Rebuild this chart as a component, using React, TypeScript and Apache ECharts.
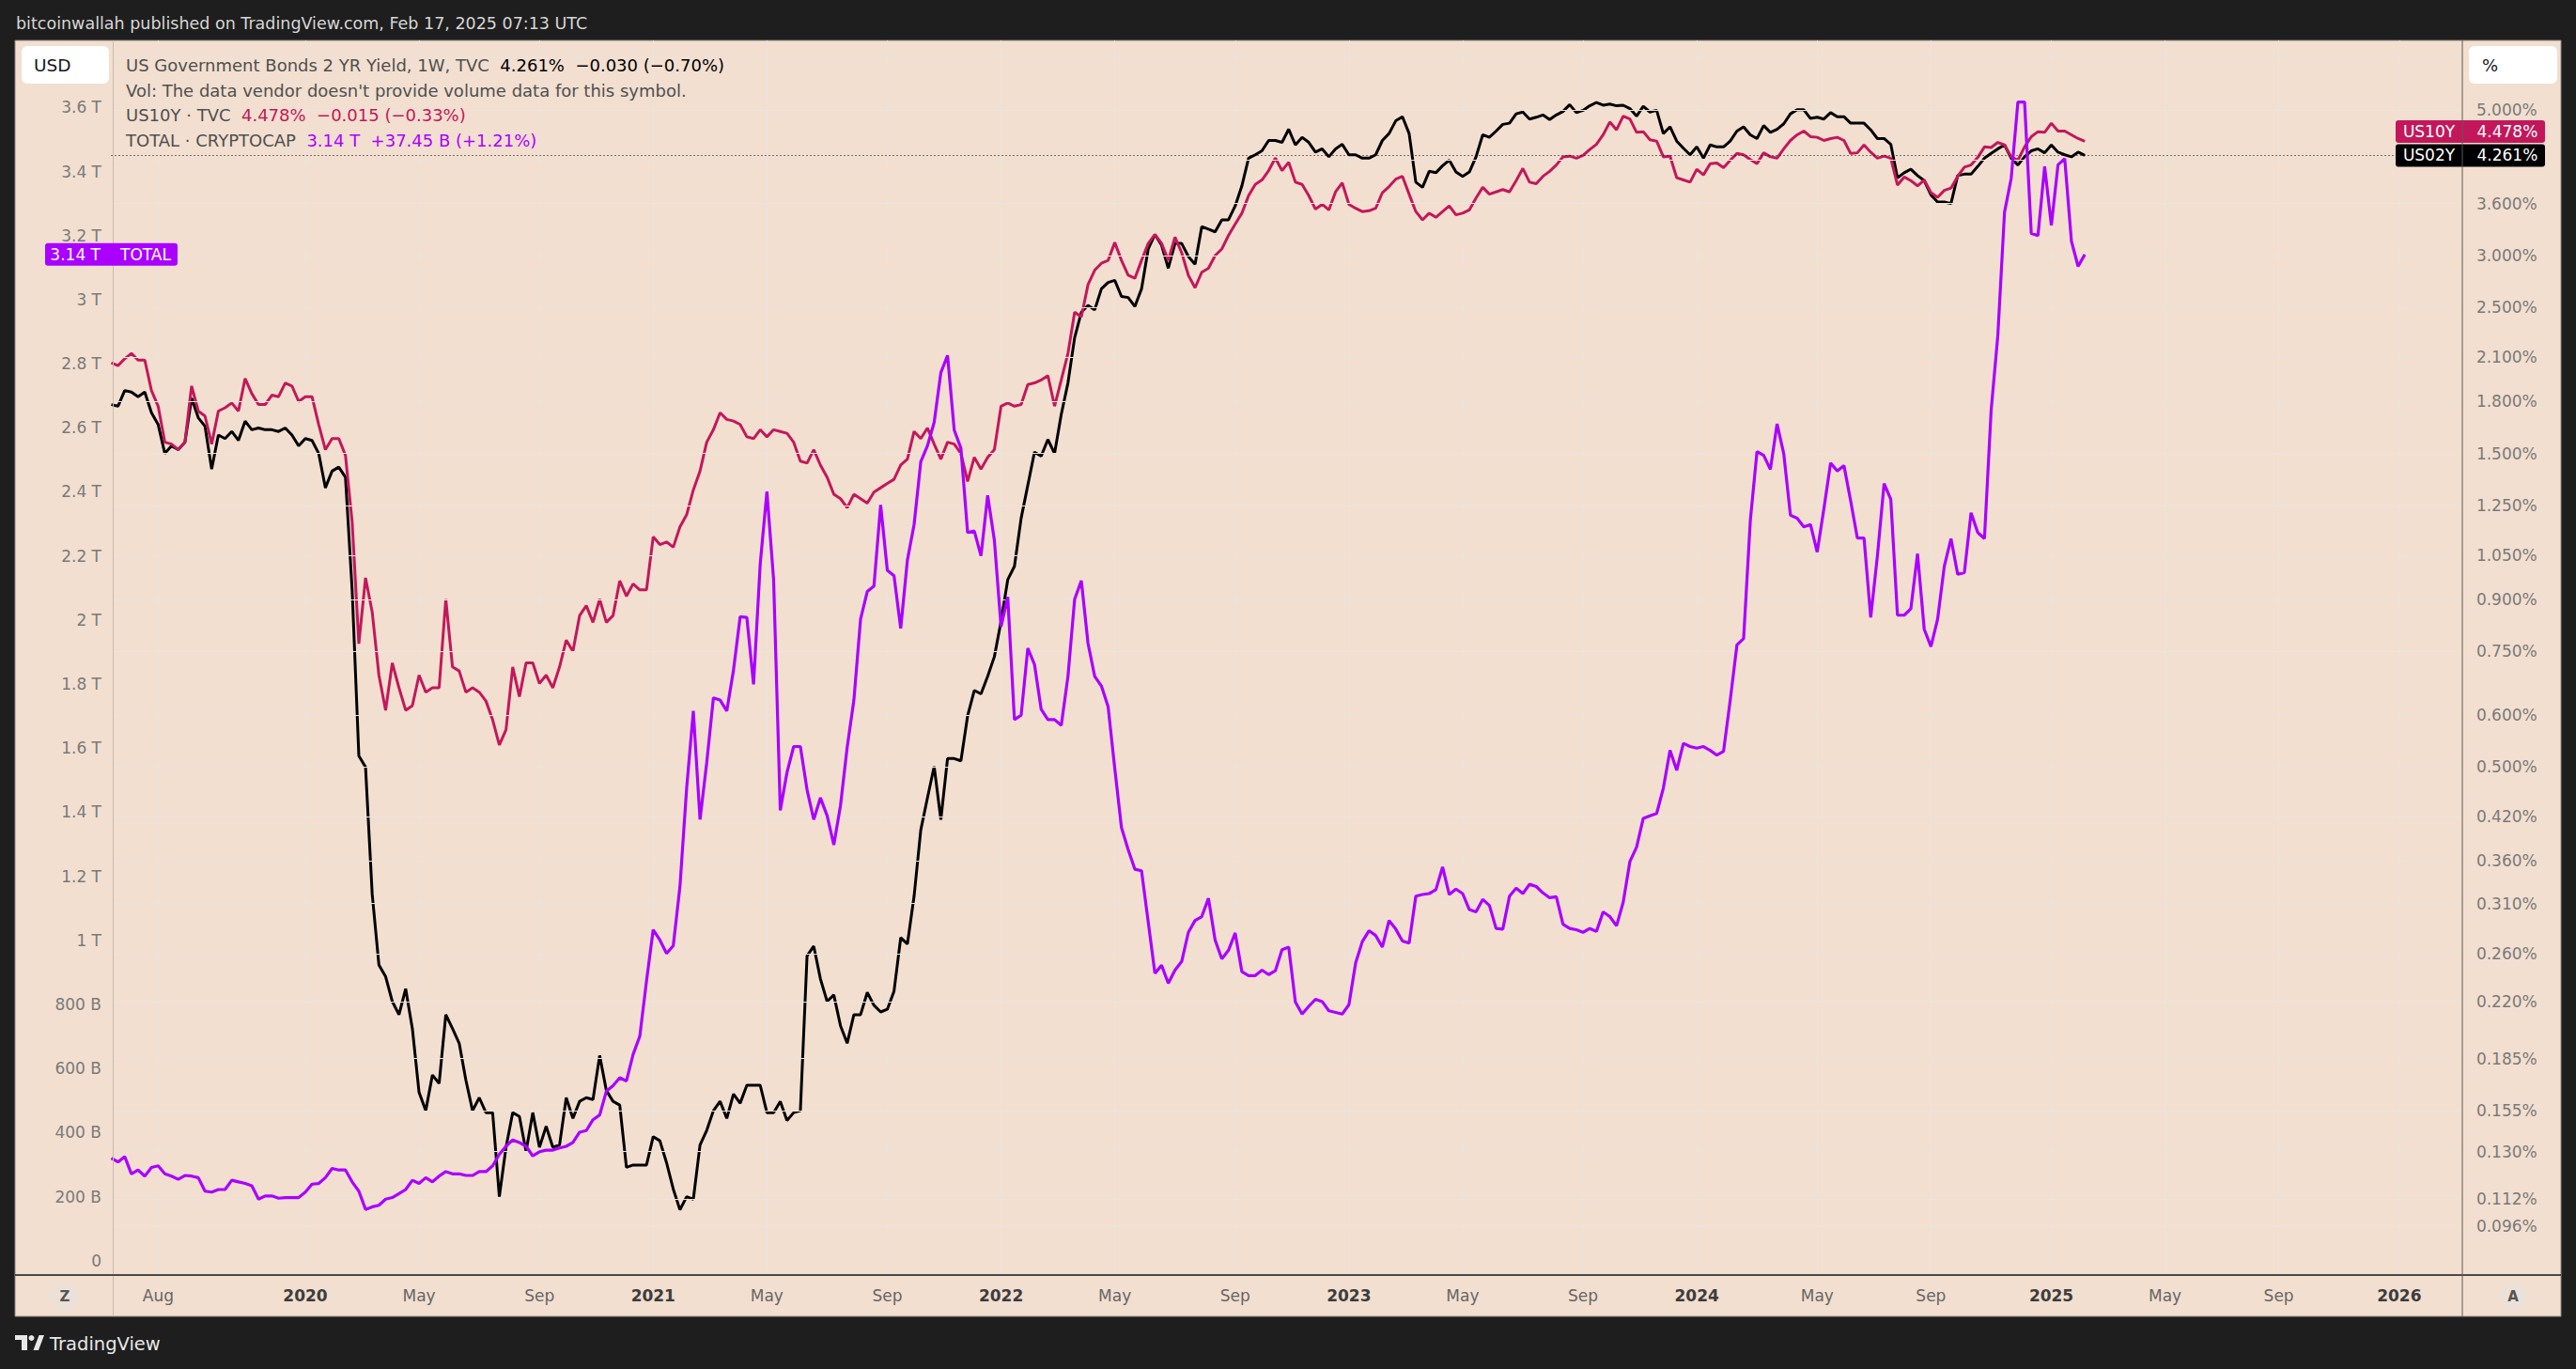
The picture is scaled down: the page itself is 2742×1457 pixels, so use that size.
import React, { useEffect, useRef } from "react";
import * as echarts from "echarts";

// ---------- DATA ----------
const weekStart = "2019-06-17"; // first weekly bar (Monday) on the time scale
const weekCount = 352;

const tickDates = [
  "2019-08-05", "2020-01-06", "2020-05-04", "2020-09-07", "2021-01-04", "2021-05-03", "2021-09-06",
  "2022-01-03", "2022-05-02", "2022-09-05", "2023-01-02", "2023-05-01", "2023-09-04", "2024-01-01",
  "2024-05-06", "2024-09-02", "2025-01-06", "2025-05-05", "2025-09-01", "2026-01-05",
];
const tickLabels = [
  "Aug", "2020", "May", "Sep", "2021", "May", "Sep", "2022", "May", "Sep", "2023", "May", "Sep", "2024",
  "May", "Sep", "2025", "May", "Sep", "2026",
];

// US 10Y yield, % (weekly)
const us10y = [
  2.06, 2.04, 2.09, 2.13, 2.08, 2.08, 1.87, 1.77, 1.56, 1.55,
  1.52, 1.56, 1.90, 1.74, 1.71, 1.55, 1.74, 1.76, 1.79, 1.74,
  1.95, 1.85, 1.78, 1.78, 1.84, 1.83, 1.92, 1.90, 1.80, 1.83,
  1.83, 1.66, 1.52, 1.58, 1.58, 1.49, 1.18, 0.77, 0.97, 0.86,
  0.69, 0.61, 0.72, 0.66, 0.61, 0.62, 0.69, 0.65, 0.66, 0.66,
  0.90, 0.71, 0.70, 0.65, 0.66, 0.65, 0.63, 0.59, 0.54, 0.57,
  0.71, 0.64, 0.72, 0.72, 0.67, 0.69, 0.66, 0.71, 0.78, 0.75,
  0.85, 0.88, 0.83, 0.90, 0.83, 0.85, 0.96, 0.91, 0.95, 0.93,
  0.93, 1.12, 1.09, 1.10, 1.08, 1.16, 1.21, 1.32, 1.41, 1.56,
  1.63, 1.73, 1.69, 1.68, 1.66, 1.59, 1.58, 1.63, 1.59, 1.63,
  1.62, 1.61, 1.56, 1.46, 1.45, 1.52, 1.44, 1.38, 1.30, 1.28,
  1.24, 1.30, 1.28, 1.26, 1.31, 1.33, 1.35, 1.37, 1.44, 1.47,
  1.62, 1.58, 1.64, 1.55, 1.47, 1.56, 1.55, 1.50, 1.36, 1.48,
  1.42, 1.48, 1.52, 1.77, 1.79, 1.77, 1.78, 1.91, 1.92, 1.94,
  1.97, 1.77, 1.94, 2.13, 2.46, 2.42, 2.71, 2.85, 2.92, 2.95,
  3.14, 2.95, 2.80, 2.77, 2.95, 3.13, 3.23, 3.13, 2.95, 3.20,
  3.03, 2.80, 2.68, 2.83, 2.87, 3.00, 3.07, 3.22, 3.35, 3.48,
  3.70, 3.85, 3.91, 4.04, 4.22, 4.04, 4.16, 3.88, 3.85, 3.70,
  3.53, 3.59, 3.52, 3.75, 3.87, 3.59, 3.54, 3.50, 3.51, 3.54,
  3.74, 3.82, 3.92, 3.96, 3.72, 3.50, 3.40, 3.48, 3.43, 3.50,
  3.57, 3.46, 3.48, 3.52, 3.67, 3.81, 3.72, 3.75, 3.78, 3.75,
  3.90, 4.07, 3.88, 3.86, 3.96, 4.03, 4.12, 4.24, 4.25, 4.22,
  4.26, 4.35, 4.43, 4.58, 4.79, 4.66, 4.89, 4.84, 4.62, 4.63,
  4.50, 4.48, 4.24, 4.25, 3.94, 3.91, 3.88, 4.06, 3.98, 4.14,
  4.15, 4.08, 4.19, 4.29, 4.27, 4.20, 4.14, 4.30, 4.24, 4.22,
  4.36, 4.49, 4.58, 4.64, 4.55, 4.54, 4.49, 4.52, 4.54, 4.49,
  4.29, 4.30, 4.42, 4.31, 4.22, 4.25, 4.22, 3.84, 3.95, 3.90,
  3.83, 3.91, 3.74, 3.68, 3.77, 3.80, 3.96, 4.09, 4.12, 4.23,
  4.39, 4.38, 4.46, 4.42, 4.24, 4.19, 4.39, 4.55, 4.63, 4.62,
  4.77, 4.64, 4.64, 4.58, 4.52, 4.478,
];

// US 2Y yield, % (weekly)
const us02y = [
  1.78, 1.77, 1.87, 1.86, 1.83, 1.86, 1.73, 1.66, 1.50, 1.54,
  1.52, 1.56, 1.82, 1.70, 1.65, 1.42, 1.60, 1.58, 1.62, 1.57,
  1.68, 1.63, 1.64, 1.63, 1.63, 1.62, 1.64, 1.60, 1.54, 1.58,
  1.57, 1.50, 1.33, 1.41, 1.43, 1.38, 0.93, 0.52, 0.50, 0.32,
  0.25, 0.24, 0.22, 0.21, 0.23, 0.20, 0.16, 0.15, 0.17, 0.165,
  0.21, 0.20, 0.19, 0.167, 0.15, 0.157, 0.149, 0.149, 0.111, 0.132,
  0.149, 0.147, 0.130, 0.149, 0.132, 0.142, 0.132, 0.133, 0.157, 0.146,
  0.155, 0.157, 0.156, 0.182, 0.161, 0.155, 0.153, 0.123, 0.124, 0.124,
  0.124, 0.137, 0.135, 0.125, 0.114, 0.106, 0.111, 0.110, 0.133, 0.140,
  0.150, 0.155, 0.146, 0.159, 0.154, 0.164, 0.164, 0.164, 0.149, 0.149,
  0.155, 0.145, 0.149, 0.150, 0.258, 0.267, 0.238, 0.220, 0.225, 0.202,
  0.190, 0.210, 0.210, 0.227, 0.217, 0.212, 0.214, 0.228, 0.275, 0.269,
  0.318, 0.401, 0.449, 0.501, 0.416, 0.515, 0.515, 0.511, 0.598, 0.654,
  0.646, 0.687, 0.736, 0.833, 0.964, 1.010, 1.195, 1.342, 1.507, 1.486,
  1.575, 1.50, 1.72, 1.92, 2.25, 2.46, 2.52, 2.48, 2.67, 2.73,
  2.75, 2.60, 2.59, 2.51, 2.67, 3.07, 3.23, 3.11, 2.87, 3.13,
  3.13, 2.99, 2.91, 3.32, 3.29, 3.26, 3.40, 3.40, 3.57, 3.83,
  4.22, 4.27, 4.33, 4.49, 4.49, 4.46, 4.67, 4.42, 4.54, 4.46,
  4.31, 4.36, 4.24, 4.36, 4.43, 4.27, 4.27, 4.22, 4.22, 4.27,
  4.49, 4.60, 4.81, 4.88, 4.60, 3.88, 3.81, 4.03, 4.01, 4.11,
  4.19, 4.02, 3.96, 4.02, 4.24, 4.58, 4.54, 4.64, 4.75, 4.77,
  4.93, 4.96, 4.84, 4.87, 4.91, 4.83, 4.91, 4.97, 5.09, 4.95,
  4.99, 5.07, 5.13, 5.08, 5.10, 5.07, 5.08, 5.02, 4.89, 5.06,
  4.96, 4.99, 4.60, 4.71, 4.48, 4.37, 4.27, 4.39, 4.22, 4.42,
  4.39, 4.39, 4.48, 4.64, 4.71, 4.58, 4.52, 4.73, 4.62, 4.67,
  4.76, 4.93, 5.00, 5.00, 4.85, 4.87, 4.84, 4.95, 4.88, 4.88,
  4.77, 4.77, 4.77, 4.66, 4.52, 4.52, 4.43, 3.94, 4.01, 4.06,
  3.97, 3.90, 3.71, 3.62, 3.62, 3.60, 3.97, 3.99, 3.99, 4.10,
  4.22, 4.29, 4.36, 4.42, 4.22, 4.12, 4.24, 4.33, 4.36, 4.30,
  4.42, 4.31, 4.27, 4.24, 4.31, 4.261,
];

// TOTAL crypto market cap, billions USD (weekly)
const totalCap = [
  320, 308, 325, 271, 283, 264, 291, 296, 271, 264,
  254, 266, 264, 259, 217, 214, 222, 222, 251, 246,
  241, 234, 192, 202, 202, 195, 197, 197, 197, 214,
  239, 241, 259, 288, 283, 283, 246, 217, 160, 168,
  173, 192, 197, 209, 222, 251, 241, 259, 246, 264,
  278, 271, 271, 266, 266, 278, 278, 296, 332, 357,
  377, 369, 357, 327, 340, 345, 345, 352, 357, 369,
  401, 406, 440, 455, 529, 546, 571, 561, 644, 701,
  873, 1033, 1001, 959, 983, 1168, 1475, 1716, 1377, 1554,
  1757, 1750, 1716, 1843, 2010, 2008, 1799, 2175, 2401, 2126,
  1406, 1524, 1605, 1605, 1470, 1377, 1445, 1389, 1298, 1421,
  1603, 1750, 2003, 2089, 2106, 2359, 2155, 2138, 1974, 2187,
  2298, 2494, 2544, 2617, 2772, 2826, 2593, 2536, 2273, 2278,
  2200, 2389, 2249, 1979, 2072, 1689, 1703, 1912, 1861, 1721,
  1689, 1689, 1671, 1824, 2065, 2123, 1927, 1824, 1794, 1730,
  1536, 1352, 1283, 1222, 1217, 1057, 897, 922, 866, 907,
  934, 1025, 1062, 1074, 1131, 1001, 942, 969, 1023, 902,
  890, 890, 907, 893, 905, 971, 979, 807, 770, 794,
  816, 809, 780, 775, 770, 799, 929, 996, 1030, 1015,
  979, 1062, 1035, 998, 991, 1138, 1143, 1146, 1158, 1229,
  1143, 1160, 1146, 1096, 1089, 1128, 1109, 1037, 1035, 1138,
  1163, 1146, 1175, 1168, 1148, 1133, 1136, 1050, 1037, 1033,
  1025, 1037, 1028, 1089, 1074, 1045, 1119, 1246, 1291, 1381,
  1389, 1396, 1475, 1593, 1531, 1615, 1605, 1600, 1605, 1593,
  1578, 1590, 1750, 1922, 1942, 2310, 2526, 2514, 2470, 2612,
  2519, 2327, 2318, 2291, 2298, 2212, 2347, 2490, 2465, 2482,
  2372, 2256, 2256, 2008, 2200, 2426, 2377, 2015, 2015, 2035,
  2207, 1971, 1917, 2003, 2168, 2254, 2143, 2148, 2335, 2273,
  2254, 2654, 2888, 3273, 3379, 3617, 3617, 3207, 3200, 3416,
  3232, 3421, 3440, 3183, 3104, 3141,
];

// right (%) price-scale ticks
const pctTicks = [5, 3.6, 3, 2.5, 2.1, 1.8, 1.5, 1.25, 1.05, 0.9, 0.75, 0.6, 0.5, 0.42, 0.36, 0.31, 0.26, 0.22, 0.185, 0.155, 0.13, 0.112, 0.096];
const pctTickLabels = ["5.000%", "3.600%", "3.000%", "2.500%", "2.100%", "1.800%", "1.500%", "1.250%", "1.050%", "0.900%", "0.750%", "0.600%", "0.500%", "0.420%", "0.360%", "0.310%", "0.260%", "0.220%", "0.185%", "0.155%", "0.130%", "0.112%", "0.096%"];
const pctHiddenTicks = [6, 4.2];

const us02yLegend = { value: "4.261%", change: "\u22120.030 (\u22120.70%)" };
const us10yLegend = { value: "4.478%", change: "\u22120.015 (\u22120.33%)" };
const totalLegend = { value: "3.14 T", change: "+37.45 B (+1.21%)" };

// ---------- STYLE ----------
const DARK = "#1e1e1e";
const BEIGE = "#f2dfd0";
const GRID = "#ebe3dc";
const RED = "#c2185b";
const PURPLE = "#aa00ff";
const FONT = "DejaVu Sans";
const AXIS_TEXT = "#7a7a7a";

const GRID_LEFT = 118.5;
const GRID_WIDTH = 2499.4;

function buildWeeks(start: string, n: number): string[] {
  const [y, m, d] = start.split("-").map(Number);
  const t0 = Date.UTC(y, m - 1, d);
  const out: string[] = [];
  for (let i = 0; i < n; i++) {
    out.push(new Date(t0 + i * 7 * 86400000).toISOString().slice(0, 10));
  }
  return out;
}

const weeks = buildWeeks(weekStart, weekCount);
const tickMap = new Map<string, string>();
tickDates.forEach((d, i) => tickMap.set(d, tickLabels[i]));
const isTick = (_i: number, v: string) => tickMap.has(v);

function fmtCap(v: number): string {
  if (v === 0) return "0";
  if (v >= 3800) return "";
  if (v >= 1000) return `${+(v / 1000).toFixed(1)} T`;
  return `${v} B`;
}

export default function App() {
  const ref = useRef<HTMLDivElement>(null);

  useEffect(() => {
    if (!ref.current) return;
    const chart = echarts.init(ref.current, null, { renderer: "svg" });

    const option: any = {
      animation: false,
      backgroundColor: DARK,
      grid: [
        { left: GRID_LEFT, top: 43, width: GRID_WIDTH, height: 1314, outerBoundsMode: "none" },
        { left: GRID_LEFT, top: 46.2, width: GRID_WIDTH, height: 1295.5, outerBoundsMode: "none" },
      ],
      xAxis: [
        {
          type: "category",
          gridIndex: 0,
          data: weeks,
          boundaryGap: false,
          axisLine: { show: false },
          axisTick: { show: false },
          axisLabel: {
            interval: isTick,
            margin: 13,
            hideOverlap: false,
            formatter: (v: string) => {
              const t = tickMap.get(v) || "";
              if (!t) return "";
              return /^\d{4}$/.test(t) ? `{y|${t}}` : `{m|${t}}`;
            },
            rich: {
              y: { fontFamily: FONT, fontSize: 17, fontWeight: "bold", color: "#3d3d3d" },
              m: { fontFamily: FONT, fontSize: 17, color: "#666666" },
            },
          },
          splitLine: { show: true, interval: isTick, lineStyle: { color: GRID, width: 1 } },
        },
        { type: "category", gridIndex: 1, data: weeks, boundaryGap: false, show: false },
      ],
      yAxis: [
        {
          type: "log",
          gridIndex: 0,
          position: "right",
          logBase: 10,
          min: 0.08435,
          max: 6.375,
          axisLabel: { show: false },
          axisLine: { show: false },
          axisTick: { show: false },
          splitLine: { show: false },
        },
        {
          type: "value",
          gridIndex: 1,
          position: "left",
          min: 0,
          max: 3800,
          interval: 200,
          axisLine: { show: false },
          axisTick: { show: false },
          splitLine: { show: false },
          axisLabel: { margin: 10.5, fontFamily: FONT, fontSize: 17, color: AXIS_TEXT, formatter: fmtCap },
        },
      ],
      series: [
        {
          type: "line",
          name: "grid",
          xAxisIndex: 0,
          yAxisIndex: 0,
          data: [],
          z: 1,
          silent: true,
          markLine: {
            silent: true,
            symbol: ["none", "none"],
            lineStyle: { color: GRID, width: 1, type: "solid" },
            label: {
              show: true,
              position: "end",
              distance: 18,
              color: AXIS_TEXT,
              fontFamily: FONT,
              fontSize: 17,
              formatter: "{b}",
            },
            emphasis: { disabled: true },
            data: [
              ...pctTicks.map((v, i) => ({ yAxis: v, name: pctTickLabels[i] })),
              ...pctHiddenTicks.map((v) => ({ yAxis: v, name: "", label: { show: false } })),
            ],
          },
        },
        {
          type: "line",
          name: "US02Y",
          xAxisIndex: 0,
          yAxisIndex: 0,
          data: us02y,
          symbol: "none",
          z: 3,
          lineStyle: { color: "#000000", width: 3 },
          itemStyle: { color: "#000000" },
          markLine: {
            silent: true,
            symbol: ["none", "none"],
            label: { show: false },
            emphasis: { disabled: true },
            lineStyle: { color: "#000000", width: 1, type: [1, 3] },
            data: [{ yAxis: us02y[us02y.length - 1] }],
          },
        },
        {
          type: "line",
          name: "US10Y",
          xAxisIndex: 0,
          yAxisIndex: 0,
          data: us10y,
          symbol: "none",
          z: 4,
          lineStyle: { color: RED, width: 3 },
          itemStyle: { color: RED },
        },
        {
          type: "line",
          name: "TOTAL",
          xAxisIndex: 1,
          yAxisIndex: 1,
          data: totalCap,
          symbol: "none",
          z: 5,
          lineStyle: { color: PURPLE, width: 3.2 },
          itemStyle: { color: PURPLE },
        },
      ],
    };

    chart.setOption(option);

    const y02 = chart.convertToPixel({ yAxisIndex: 0 } as any, us02y[us02y.length - 1]) as number;
    const y10raw = chart.convertToPixel({ yAxisIndex: 0 } as any, us10y[us10y.length - 1]) as number;
    const yTot = chart.convertToPixel({ yAxisIndex: 1 } as any, totalCap[totalCap.length - 1]) as number;
    const TAG_H = 24;
    const y10 = Math.min(y10raw, y02 - TAG_H - 1.5);

    const txt = (x: number, y: number, text: string, fill: string, size: number, extra: any = {}) => ({
      type: "text",
      x,
      y,
      z: 20,
      silent: true,
      style: {
        text,
        fill,
        fontFamily: FONT,
        fontSize: size,
        align: "left",
        verticalAlign: "middle",
        textAlign: "left",
        textVerticalAlign: "middle",
        ...extra,
      },
    });

    const richLine = (y: number, parts: [string, string][]) => {
      const rich: any = {};
      let text = "";
      parts.forEach(([s, c], i) => {
        rich["p" + i] = { fill: c, fontFamily: FONT, fontSize: 18 };
        text += (i ? "  " : "") + `{p${i}|${s}}`;
      });
      return {
        type: "text",
        x: 134,
        y,
        z: 20,
        silent: true,
        style: { text, rich, fontFamily: FONT, fontSize: 18, verticalAlign: "middle", textVerticalAlign: "middle" },
      };
    };

    const NAME = "#4f4f4f";

    const tag = (cy: number, name: string, value: string, color: string) => [
      { type: "rect", z: 18, silent: true, shape: { x: 2550, y: cy - TAG_H / 2, width: 71, height: TAG_H, r: [3, 0, 0, 3] }, style: { fill: color } },
      { type: "rect", z: 18, silent: true, shape: { x: 2621, y: cy - TAG_H / 2, width: 88, height: TAG_H, r: [0, 3, 3, 0] }, style: { fill: color } },
      txt(2585.5, cy, name, "#ffffff", 17, { align: "center", textAlign: "center" }),
      txt(2636.5, cy, value, "#ffffff", 17),
    ];

    const graphic: any[] = [
      // panel
      { type: "rect", z: -5, silent: true, shape: { x: 16, y: 43, width: 2710, height: 1358 }, style: { fill: BEIGE, stroke: "#8f8782", lineWidth: 1 } },
      // left / right scale separators and time-axis border
      { type: "line", z: 6, silent: true, shape: { x1: 120.5, y1: 43, x2: 120.5, y2: 1401 }, style: { stroke: "#c9bbb0", lineWidth: 1 } },
      { type: "line", z: 6, silent: true, shape: { x1: 16, y1: 1357, x2: 2726, y2: 1357 }, style: { stroke: "#4a4a4a", lineWidth: 2 } },
      // title bar
      txt(17, 25, "bitcoinwallah published on TradingView.com, Feb 17, 2025 07:13 UTC", "#d6d6d6", 17.5),
      // legend
      richLine(69, [["US Government Bonds 2 YR Yield, 1W, TVC", NAME], [us02yLegend.value, "#000000"], [us02yLegend.change, "#000000"]]),
      richLine(96, [["Vol: The data vendor doesn't provide volume data for this symbol.", NAME]]),
      richLine(122.5, [["US10Y \u00b7 TVC", NAME], [us10yLegend.value, RED], [us10yLegend.change, RED]]),
      richLine(149.5, [["TOTAL \u00b7 CRYPTOCAP", NAME], [totalLegend.value, PURPLE], [totalLegend.change, PURPLE]]),
      // USD / % buttons
      { type: "rect", z: 19, silent: true, shape: { x: 23, y: 49, width: 93, height: 40, r: 6 }, style: { fill: "#ffffff" } },
      txt(36, 69, "USD", "#131722", 18.5),
      { type: "rect", z: 19, silent: true, shape: { x: 2628, y: 49, width: 94, height: 40, r: 6 }, style: { fill: "#ffffff" } },
      txt(2642, 69, "%", "#131722", 18),
      // Z / A buttons
      { type: "circle", z: 19, silent: true, shape: { cx: 69, cy: 1380, r: 15 }, style: { fill: "#ece1d8" } },
      txt(69, 1380, "Z", "#555555", 15, { align: "center", textAlign: "center", fontWeight: "bold" }),
      { type: "circle", z: 19, silent: true, shape: { cx: 2675, cy: 1380, r: 15 }, style: { fill: "#ece1d8" } },
      txt(2675, 1380, "A", "#555555", 15, { align: "center", textAlign: "center", fontWeight: "bold" }),
      // TOTAL tag
      { type: "rect", z: 18, silent: true, shape: { x: 48, y: yTot - TAG_H / 2, width: 141, height: TAG_H, r: 3 }, style: { fill: PURPLE } },
      txt(107, yTot, totalLegend.value, "#ffffff", 17, { align: "right", textAlign: "right" }),
      txt(128, yTot, "TOTAL", "#ffffff", 17),
      // price tags
      ...tag(y10, "US10Y", us10yLegend.value, RED),
      ...tag(y02, "US02Y", us02yLegend.value, "#000000"),
      { type: "line", z: 21, silent: true, shape: { x1: 2621, y1: 43, x2: 2621, y2: 1401 }, style: { stroke: "#5e5955", lineWidth: 1 } },
      // TradingView logo
      { type: "rect", z: 20, silent: true, shape: { x: 16, y: 1421, width: 13, height: 5 }, style: { fill: "#e8e8e8" } },
      { type: "rect", z: 20, silent: true, shape: { x: 23, y: 1421, width: 6, height: 16 }, style: { fill: "#e8e8e8" } },
      { type: "circle", z: 20, silent: true, shape: { cx: 33.5, cy: 1424, r: 3 }, style: { fill: "#e8e8e8" } },
      { type: "polygon", z: 20, silent: true, shape: { points: [[35.5, 1437], [41.5, 1421], [47, 1421], [41, 1437]] }, style: { fill: "#e8e8e8" } },
      txt(53, 1430, "TradingView", "#e8e8e8", 19.5),
    ];

    chart.setOption({ graphic });

    return () => chart.dispose();
  }, []);

  return <div ref={ref} style={{ position: "absolute", left: 0, top: 0, width: 2742, height: 1457 }} />;
}
